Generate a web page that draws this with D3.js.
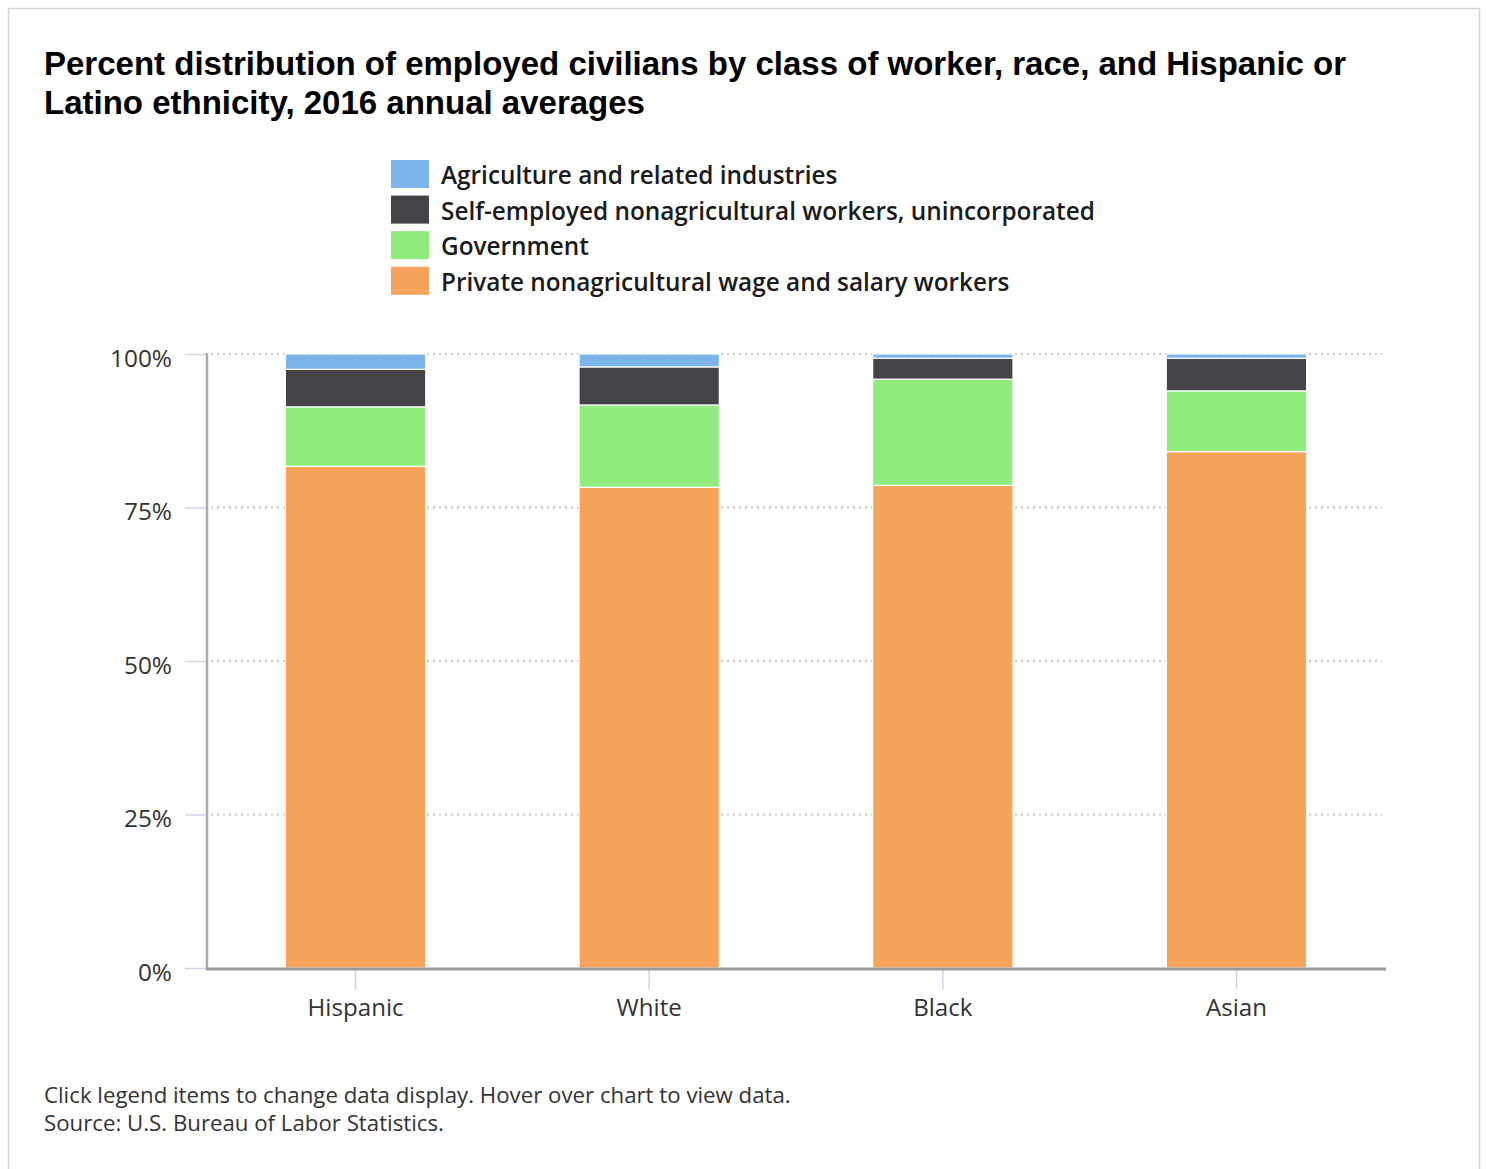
<!DOCTYPE html>
<html>
<head>
<meta charset="utf-8">
<script src="https://cdn.jsdelivr.net/npm/d3@7"></script>
<style>
  html, body { margin: 0; padding: 0; background: #fff; }
  svg { display: block; }
</style>
</head>
<body>
<svg id="chart" width="1486" height="1169"></svg>
<script>
// Categories (x axis)
const categories = ["Hispanic", "White", "Black", "Asian"];

// Series, bottom of stack first (percent of employed civilians)
const privateWage = [81.7, 78.3, 78.6, 84.1];
const government  = [9.7, 13.4, 17.3, 9.9];
const selfEmployed = [6.1, 6.2, 3.4, 5.3];
const agriculture = [2.5, 2.1, 0.7, 0.7];

const seriesNames = [
  "Private nonagricultural wage and salary workers",
  "Government",
  "Self-employed nonagricultural workers, unincorporated",
  "Agriculture and related industries"
];
const seriesColors = ["#f7a35c", "#90ed7d", "#434348", "#7cb5ec"];
const seriesValues = [privateWage, government, selfEmployed, agriculture];

// Legend order (top to bottom)
const legendOrder = [3, 2, 1, 0];

// Y ticks
const yTicks = [0, 25, 50, 75, 100];

const titleLines = [
  "Percent distribution of employed civilians by class of worker, race, and Hispanic or",
  "Latino ethnicity, 2016 annual averages"
];
const footerLines = [
  "Click legend items to change data display. Hover over chart to view data.",
  "Source: U.S. Bureau of Labor Statistics."
];

const svg = d3.select("#chart");

// Outer frame
svg.append("rect")
  .attr("x", 8.5).attr("y", 8.5)
  .attr("width", 1471).attr("height", 1200)
  .attr("fill", "#fff").attr("stroke", "#d4d4d4").attr("stroke-width", 1.5);

// Scale a text element's font so its rendered width hits a target
function fitWidth(sel, target) {
  const node = sel.node();
  const fs = parseFloat(sel.attr("font-size"));
  const w = node.getComputedTextLength();
  if (w > 0) sel.attr("font-size", (fs * target / w).toFixed(2));
  return +sel.attr("font-size");
}

// Title
const titleFont = "'Liberation Sans', Arial, sans-serif";
const t1 = svg.append("text").attr("x", 44).attr("y", 75)
  .attr("font-family", titleFont).attr("font-weight", "bold")
  .attr("font-size", 31).attr("fill", "#000").text(titleLines[0]);
fitWidth(t1, 1302);
svg.append("text").attr("x", 44).attr("y", 114)
  .attr("font-family", titleFont).attr("font-weight", "bold")
  .attr("font-size", t1.attr("font-size")).attr("fill", "#000").text(titleLines[1]);

// Plot area
const margin = { left: 207, right: 1385, top: 354, bottom: 968 };

const x = d3.scaleBand()
  .domain(categories)
  .range([margin.left, margin.right])
  .paddingInner(0.522).paddingOuter(0.267);

const y = d3.scaleLinear().domain([0, 100]).range([margin.bottom, margin.top]);

// Gridlines (dotted)
svg.append("g").selectAll("line")
  .data(yTicks.filter(d => d > 0))
  .join("line")
  .attr("x1", margin.left + 4).attr("x2", 1382)
  .attr("y1", d => y(d)).attr("y2", d => y(d))
  .attr("stroke", "#c8c8c8").attr("stroke-width", 2)
  .attr("stroke-dasharray", "2,4");

// Stacked bars
const labelFont = "'Open Sans', 'Noto Sans', sans-serif";
const stackData = categories.map((c, i) => {
  const row = { cat: c };
  seriesValues.forEach((vals, s) => row["s" + s] = vals[i]);
  return row;
});
const stack = d3.stack().keys(seriesValues.map((_, s) => "s" + s));
const layers = stack(stackData);

svg.append("g").selectAll("g")
  .data(layers)
  .join("g")
  .attr("fill", (d, i) => seriesColors[i])
  .selectAll("rect")
  .data(d => d)
  .join("rect")
  .attr("x", d => x(d.data.cat))
  .attr("width", x.bandwidth())
  .attr("y", d => y(d[1]))
  .attr("height", d => y(d[0]) - y(d[1]))
  .attr("stroke", "#ffffff").attr("stroke-width", 1.2);

// Y axis
const yAxis = svg.append("g").attr("transform", `translate(${margin.left},0)`)
  .call(d3.axisLeft(y).tickValues(yTicks).tickFormat(d => d + "%").tickSize(22).tickPadding(13));
yAxis.select(".domain").remove();
yAxis.selectAll(".tick line").attr("stroke", "#ccd6eb").attr("stroke-width", 1.5);
yAxis.selectAll(".tick text")
  .attr("font-family", labelFont).attr("font-size", 20).attr("fill", "#333")
  .attr("dy", "0.5em");
const ySize = fitWidth(yAxis.selectAll(".tick text").filter(d => d === 100), 62);
yAxis.selectAll(".tick text").attr("font-size", ySize);
svg.append("line")
  .attr("x1", margin.left).attr("x2", margin.left)
  .attr("y1", margin.top - 1).attr("y2", margin.bottom)
  .attr("stroke", "#aaaaaa").attr("stroke-width", 2.5);

// X axis
const xAxis = svg.append("g").attr("transform", `translate(0,${margin.bottom})`)
  .call(d3.axisBottom(x).tickSize(22).tickPadding(9));
xAxis.select(".domain").remove();
xAxis.selectAll(".tick line").attr("stroke", "#ccd6eb").attr("stroke-width", 1.5)
  .attr("y1", 2);
xAxis.selectAll(".tick text")
  .attr("font-family", labelFont).attr("font-size", 20).attr("fill", "#333");
const xSize = fitWidth(xAxis.selectAll(".tick text").filter(d => d === "Hispanic"), 96);
xAxis.selectAll(".tick text").attr("font-size", xSize);
svg.append("line")
  .attr("x1", margin.left - 1).attr("x2", margin.right + 1)
  .attr("y1", margin.bottom + 1).attr("y2", margin.bottom + 1)
  .attr("stroke", "#999999").attr("stroke-width", 3);

// Legend
const legendFont = "'Open Sans', 'Noto Sans', sans-serif";
const legend = svg.append("g");
const items = legend.selectAll("g")
  .data(legendOrder)
  .join("g")
  .attr("transform", (d, i) => `translate(391,${160 + i * 35.6})`);
items.append("rect")
  .attr("width", 38).attr("height", 28)
  .attr("fill", d => seriesColors[d]);
items.append("text")
  .attr("x", 50).attr("y", 24)
  .attr("font-family", legendFont).attr("font-weight", 600)
  .attr("font-size", 24).attr("fill", "#1a1a1a")
  .text(d => seriesNames[d]);
const longest = items.filter(d => d === 2).select("text");
fitWidth(longest, 654);
items.selectAll("text").attr("font-size", longest.attr("font-size"));

// Footer notes
const footFont = "'Open Sans', 'Noto Sans', sans-serif";
const f1 = svg.append("text").attr("x", 44).attr("y", 1103)
  .attr("font-family", footFont).attr("font-size", 19).attr("fill", "#333")
  .text(footerLines[0]);
fitWidth(f1, 747);
svg.append("text").attr("x", 44).attr("y", 1131)
  .attr("font-family", footFont).attr("font-size", f1.attr("font-size")).attr("fill", "#333")
  .text(footerLines[1]);
</script>
</body>
</html>
